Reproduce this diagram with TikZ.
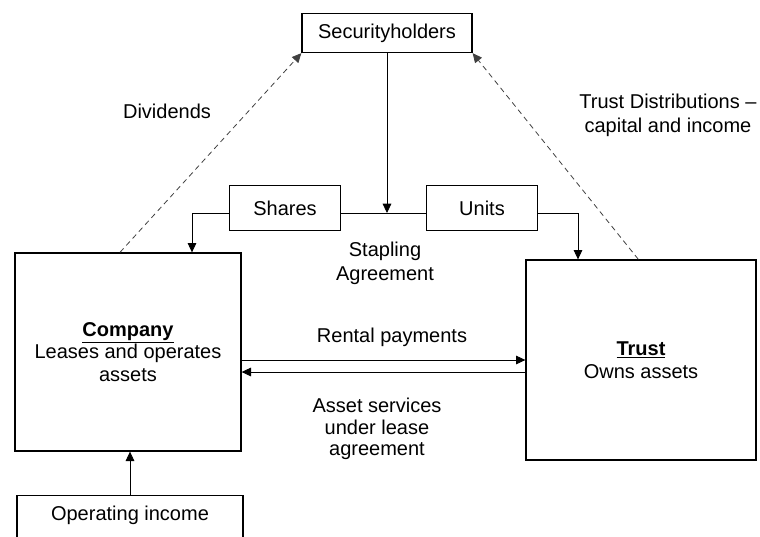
\documentclass[tikz,border=0pt]{standalone}
\usepackage{fontspec}
\setmainfont{Liberation Sans}
\usetikzlibrary{arrows.meta,calc}

\tikzset{
  box/.style={draw, line width=1pt, inner sep=2pt, align=center},
  lbl/.style={inner sep=0pt, align=center},
  arr/.style={line width=0.6pt, -{Triangle[length=7pt,width=6.5pt]}},
  darr/.style={arr, dashed, dash pattern=on 4pt off 3pt, draw=black!75},
}

\begin{document}
\begin{tikzpicture}[x=0.75pt,y=-0.75pt,font=\fontsize{15}{17}\selectfont]
    \clip (0,0) rectangle (760,536); % page area
    % boxes
    \node[box, minimum width=127.5pt, minimum height=29.25pt] (sec) at (387,33) {Securityholders};
    \node[box, minimum width=83.25pt, minimum height=33.75pt] (shares) at (285,208) {Shares};
    \node[box, minimum width=83.25pt, minimum height=33.75pt] (units) at (482,208) {Units};
    \node[box, minimum width=169.5pt, minimum height=148.5pt] (company) at (128,352)
        {\underline{\textbf{Company}}\\Leases and operates\\assets};
    \node[box, minimum width=172.5pt, minimum height=150pt] (trust) at (641,360)
        {\underline{\textbf{Trust}}\\Owns assets};
    \node[box, anchor=north, minimum width=169.5pt, minimum height=45pt,
          text height=11pt, text depth=18.5pt] (opinc) at (130,495) {Operating income};

    % labels
    \node[lbl] (lblDiv) at (167,111) {Dividends};
    \node[lbl, font=\fontsize{15}{18}\selectfont] (lblDist) at (668,115) {Trust Distributions --\\capital and income};
    \node[lbl, font=\fontsize{15}{18}\selectfont] (lblStap) at (385,263) {Stapling\\Agreement};
    \node[lbl] (lblRent) at (392,337) {Rental payments};
    \node[lbl, font=\fontsize{15}{16}\selectfont] (lblServ) at (377,429) {Asset services\\under lease\\agreement};

    % stapling line
    \coordinate (sl) at (192,213);
    \coordinate (ur) at (578,213);
    \draw[line width=0.6pt] (shares.east |- sl) -- (units.west |- sl);
    \draw[arr] (shares.west |- sl) -- (sl) -- (sl |- company.north);
    \draw[arr] (units.east |- ur) -- (ur) -- (ur |- trust.north);
    \draw[arr] (sec.south) -- (sec.south |- sl);

    % distributions
    \draw[darr] ([xshift=-6pt]company.north) -- (sec.south west);
    \draw[darr] ([xshift=-2pt]trust.north) -- (sec.south east);

    % lease flows
    \draw[arr] ($(company.east)+(0,8)$) -- (trust.west);
    \draw[arr] ($(trust.west)+(0,12)$) -- ($(company.east)+(0,20)$);
    \draw[arr] (opinc.north) -- (opinc.north |- company.south);
\end{tikzpicture}
\end{document}
